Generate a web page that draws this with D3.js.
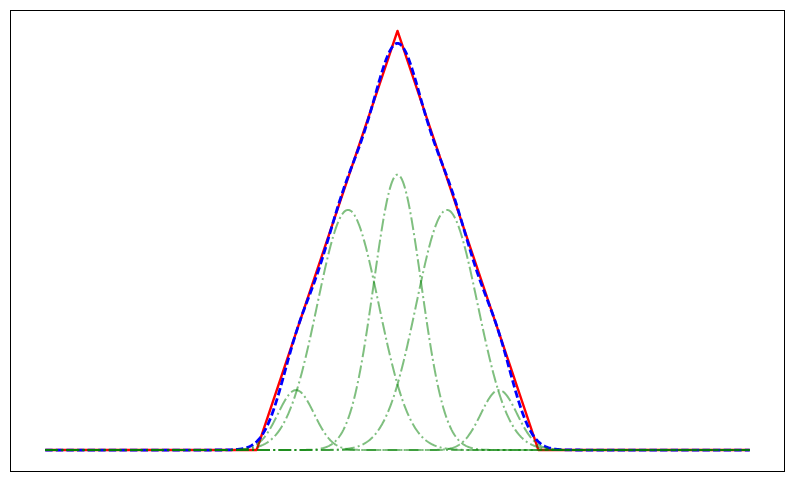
<!DOCTYPE html>
<html>
<head>
<meta charset="utf-8">
<script src="https://cdn.jsdelivr.net/npm/d3@7"></script>
<style>
  html, body { margin: 0; padding: 0; background: #fff; }
  svg { display: block; }
</style>
</head>
<body>
<svg id="chart" width="794" height="482"></svg>
<script>
// Target shape (triangle) vertices
const triangleX = [-2.5, -1, 0, 1, 2.5];
const triangleY = [0, 0, 1, 0, 0];

// Gaussian components
const gaussCenters = [-0.72, -0.351, 0, 0.351, 0.72];
const gaussAmps    = [0.143, 0.573, 0.657, 0.573, 0.143];
const gaussSigmas  = [0.128, 0.218, 0.168, 0.218, 0.128];

// x domain of the plot
const xDomain = [-2.5, 2.5];
const yDomain = [0, 1];

const svg = d3.select("#chart");
const ax = { left: 10, top: 10, width: 775, height: 461 };

const xPad = (xDomain[1] - xDomain[0]) * 0.05;
const yPad = (yDomain[1] - yDomain[0]) * 0.05;
const x = d3.scaleLinear()
  .domain([xDomain[0] - xPad, xDomain[1] + xPad])
  .range([ax.left, ax.left + ax.width]);
const y = d3.scaleLinear()
  .domain([yDomain[0] - yPad, yDomain[1] + yPad])
  .range([ax.top + ax.height, ax.top]);

svg.append("clipPath").attr("id", "clip")
  .append("rect")
  .attr("x", ax.left).attr("y", ax.top)
  .attr("width", ax.width).attr("height", ax.height);

const g = svg.append("g").attr("clip-path", "url(#clip)");

const line = d3.line().x(d => x(d[0])).y(d => y(d[1]));

// sampling grid
const xs = d3.range(0, 1001).map(i => xDomain[0] + (xDomain[1] - xDomain[0]) * i / 1000);
const gauss = (xv, k) => gaussAmps[k] * Math.exp(-((xv - gaussCenters[k]) ** 2) / (2 * gaussSigmas[k] ** 2));

// red triangle
g.append("path")
  .datum(triangleX.map((v, i) => [v, triangleY[i]]))
  .attr("d", line)
  .attr("fill", "none")
  .attr("stroke", "#ff0000")
  .attr("stroke-width", 2.4)
  .attr("stroke-linejoin", "round");

// blue dashed sum
g.append("path")
  .datum(xs.map(v => [v, d3.sum(gaussCenters, (_, k) => gauss(v, k))]))
  .attr("d", line)
  .attr("fill", "none")
  .attr("stroke", "#0000ff")
  .attr("stroke-width", 2.8)
  .attr("stroke-dasharray", "7.4,3.2");

// green dash-dot components
gaussCenters.forEach((c, k) => {
  g.append("path")
    .datum(xs.map(v => [v, gauss(v, k)]))
    .attr("d", line)
    .attr("fill", "none")
    .attr("stroke", "#008000")
    .attr("stroke-opacity", 0.5)
    .attr("stroke-width", 2)
    .attr("stroke-dasharray", "12.8,3.2,2,3.2");
});

// frame
svg.append("rect")
  .attr("x", ax.left + 0.5).attr("y", ax.top + 0.5)
  .attr("width", ax.width - 1).attr("height", ax.height)
  .attr("fill", "none")
  .attr("stroke", "#000")
  .attr("stroke-width", 1);
</script>
</body>
</html>
